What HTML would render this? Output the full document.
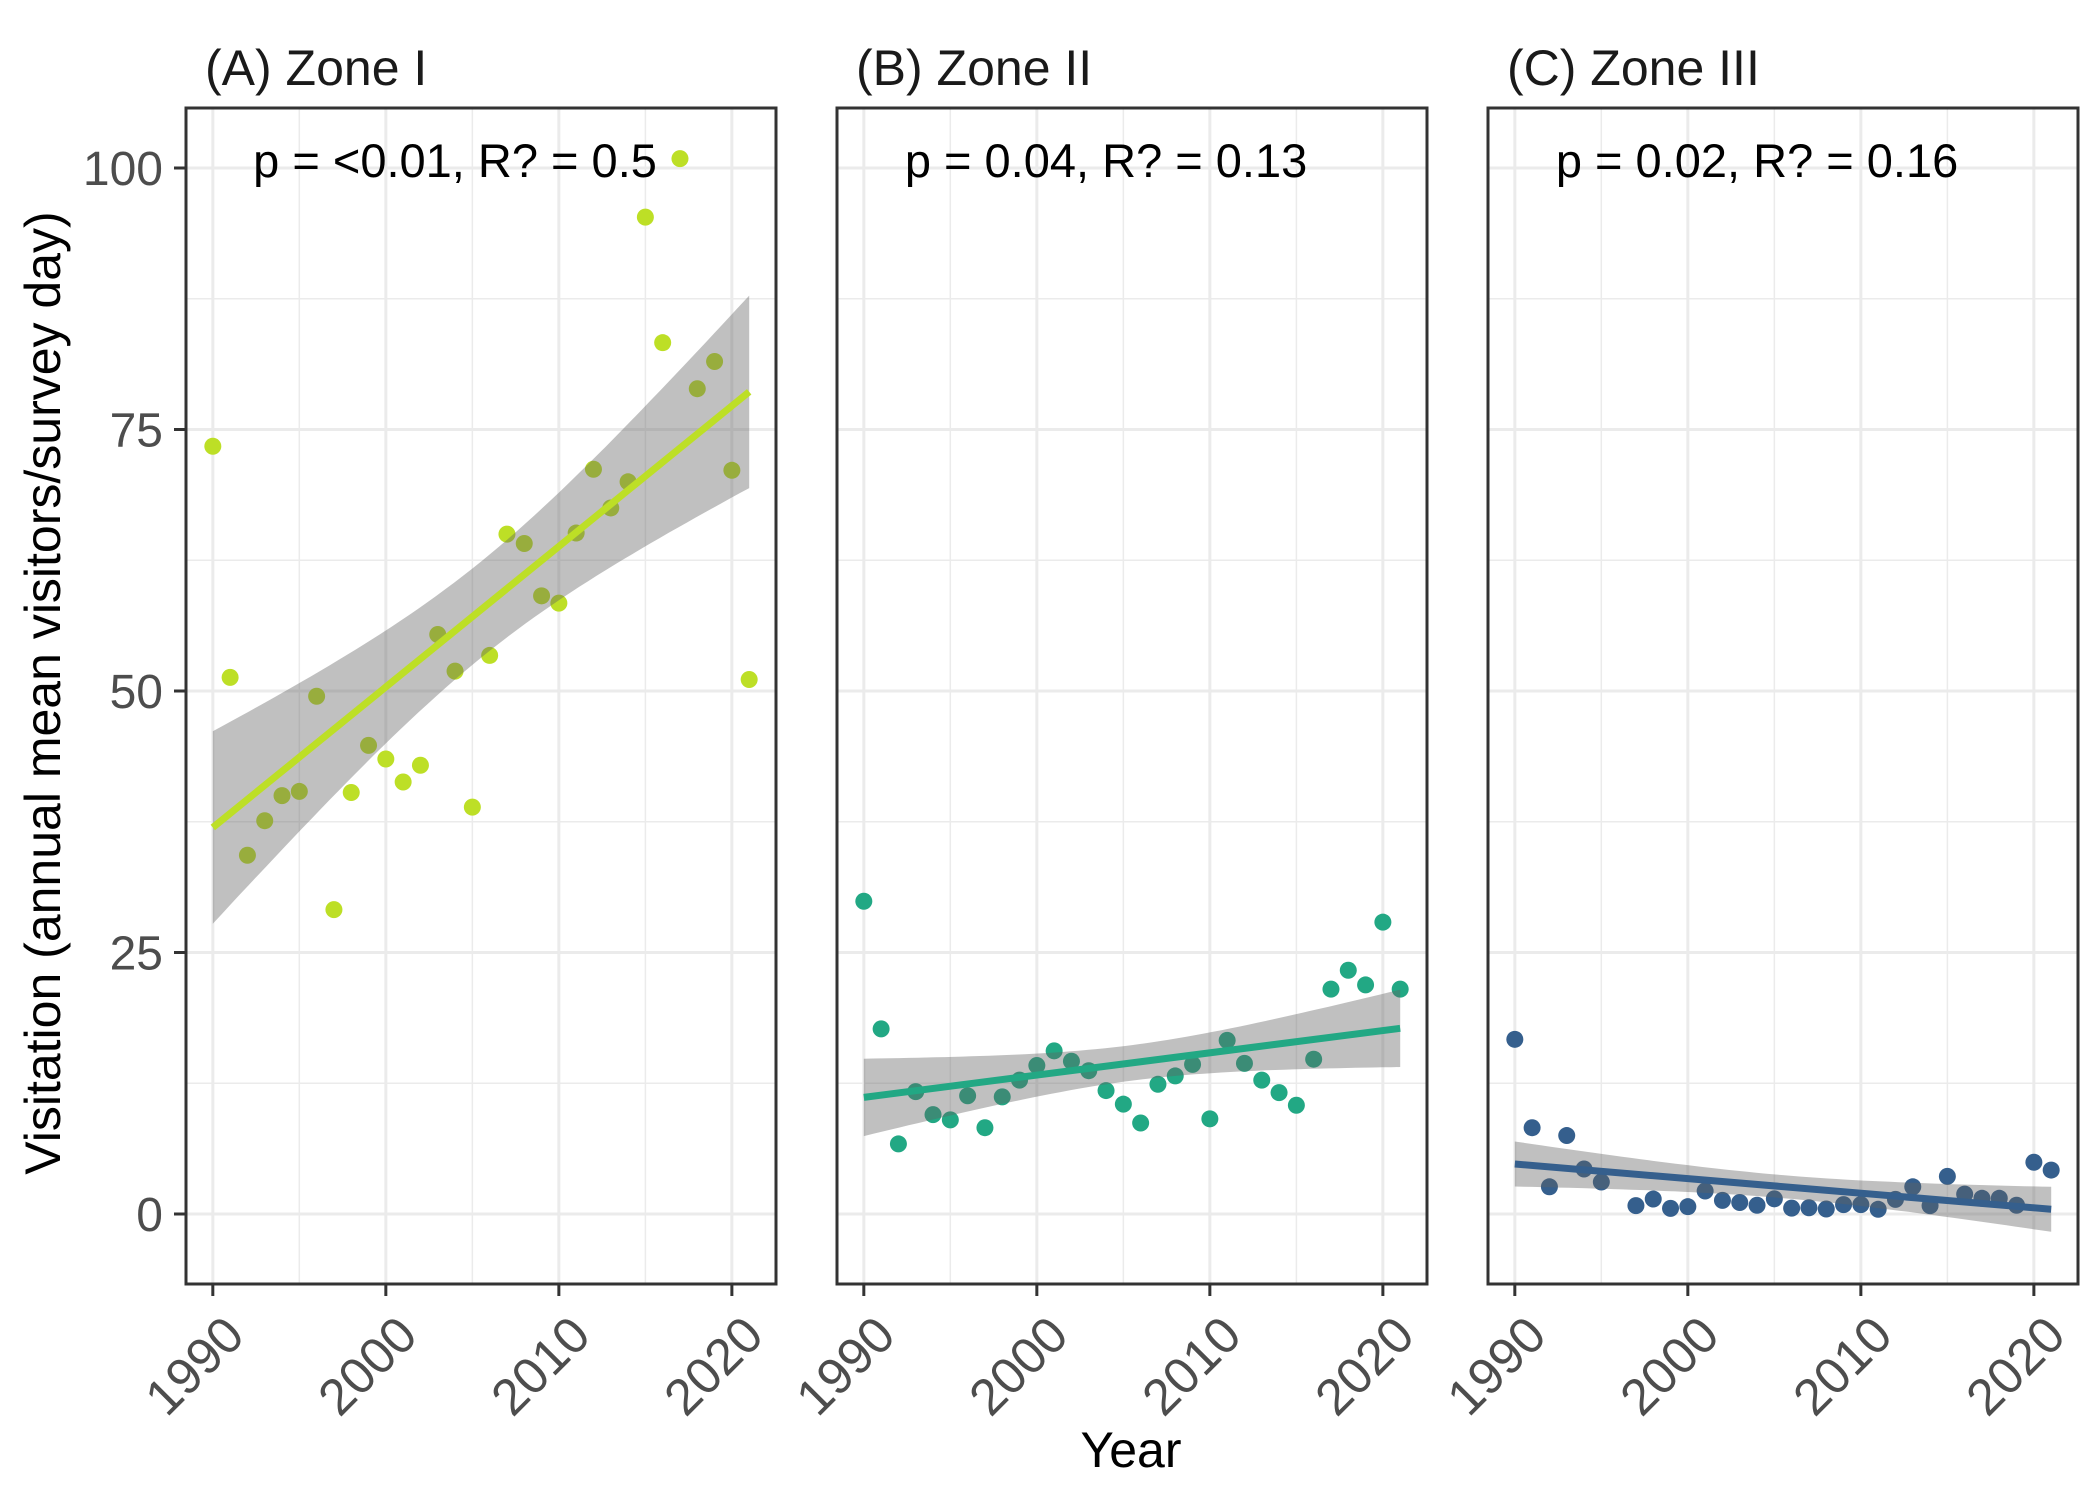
<!DOCTYPE html>
<html><head><meta charset="utf-8"><style>
html,body{margin:0;padding:0;background:#fff;}
svg{display:block;font-family:"Liberation Sans",Arial,sans-serif;}
</style></head><body>
<svg id="chart" width="2100" height="1500" viewBox="0 0 2100 1500">
<rect width="2100" height="1500" fill="#fff"/>
<text x="1131" y="1467" font-size="50" text-anchor="middle" fill="#000">Year</text>
<text transform="translate(60,693) rotate(-90)" font-size="50" text-anchor="middle" fill="#000">Visitation (annual mean visitors/survey day)</text>
</svg>
<script>
const years = [1990,1991,1992,1993,1994,1995,1996,1997,1998,1999,2000,2001,2002,2003,2004,2005,2006,2007,2008,2009,2010,2011,2012,2013,2014,2015,2016,2017,2018,2019,2020,2021];
const zoneIValues = [73.4,51.3,34.3,37.6,40,40.4,49.5,29.1,40.3,44.8,43.5,41.3,42.9,55.4,51.9,38.9,53.4,65,64.1,59.1,58.4,65.1,71.2,67.5,70,95.3,83.3,100.9,78.9,81.5,71.1,51.1];
const zoneIIValues = [29.9,17.7,6.7,11.7,9.5,9.0,11.3,8.25,11.2,12.8,14.2,15.6,14.6,13.7,11.8,10.5,8.7,12.4,13.2,14.3,9.1,16.6,14.4,12.8,11.6,10.4,14.8,21.5,23.3,21.9,27.9,21.5];
const zoneIIIValues = [16.7,8.25,2.6,7.5,4.3,3.06,null,0.8,1.43,0.54,0.7,2.2,1.3,1.1,0.84,1.45,0.56,0.6,0.48,0.9,0.9,0.45,1.4,2.6,0.8,3.6,1.9,1.5,1.5,0.84,4.95,4.2];
// fitted line [value at 1990, value at 2021]
const zoneIFit = [36.95,78.6];
const zoneIIFit = [11.15,17.75];
const zoneIIIFit = [4.78,0.45];
// CI half-width [at ends, at centre]
const zoneICI = [9.2,4.6];
const zoneIICI = [3.7,1.7];
const zoneIIICI = [2.15,1.1];
const panelTitles = ["(A) Zone I","(B) Zone II","(C) Zone III"];
const statLabels = ["p = <0.01, R? = 0.5","p = 0.04, R? = 0.13","p = 0.02, R? = 0.16"];
const yTicks = [0,25,50,75,100];
const yMinor = [12.5,37.5,62.5,87.5];
const xTicks = [1990,2000,2010,2020];
const xMinor = [1995,2005,2015];

const NS="http://www.w3.org/2000/svg";
const svg=document.getElementById('chart');
function mk(tag,attrs,parent){const e=document.createElementNS(NS,tag);for(const k in attrs)e.setAttribute(k,attrs[k]);(parent||svg).appendChild(e);return e;}
const panels=[{l:186,r:776,color:'#bddf26',vals:zoneIValues,fit:zoneIFit,ci:zoneICI,key:'zone-i'},
{l:837,r:1427,color:'#22a884',vals:zoneIIValues,fit:zoneIIFit,ci:zoneIICI,key:'zone-ii'},
{l:1488,r:2078,color:'#355f8d',vals:zoneIIIValues,fit:zoneIIIFit,ci:zoneIIICI,key:'zone-iii'}];
const TOP=108,BOT=1284,X0=1988.45,X1=2022.55;
function yS(v){return 1214-v*10.46;}
panels.forEach((p,pi)=>{
  const xS=yr=>p.l+(yr-X0)/(X1-X0)*(p.r-p.l);
  const g=mk('g',{});
  
  
  yMinor.forEach(v=>{const l=mk('line',{x1:p.l,x2:p.r,y1:yS(v),y2:yS(v),stroke:'#ebebeb','stroke-width':1.5},g);});
  xMinor.forEach(v=>{const l=mk('line',{x1:xS(v),x2:xS(v),y1:TOP,y2:BOT,stroke:'#ebebeb','stroke-width':1.5},g);});
  yTicks.forEach(v=>{const l=mk('line',{x1:p.l,x2:p.r,y1:yS(v),y2:yS(v),stroke:'#ebebeb','stroke-width':3},g);});
  xTicks.forEach(v=>{const l=mk('line',{x1:xS(v),x2:xS(v),y1:TOP,y2:BOT,stroke:'#ebebeb','stroke-width':3},g);});
  years.forEach((yr,i)=>{const v=p.vals[i];if(v==null)return;
    const c=mk('circle',{cx:xS(yr),cy:yS(v),r:8.5,fill:p.color},g);
    
    });
  const y0=years[0],y1=years[years.length-1],xm=(y0+y1)/2,hw=(y1-y0)/2;
  const a=p.ci[1]*p.ci[1],b=(p.ci[0]*p.ci[0]-a)/(hw*hw);
  const up=[],lo=[];
  for(let k=0;k<=60;k++){const yr=y0+(y1-y0)*k/60;const f=p.fit[0]+(p.fit[1]-p.fit[0])*(yr-y0)/(y1-y0);const h=Math.sqrt(a+b*(yr-xm)*(yr-xm));
    up.push(xS(yr).toFixed(1)+','+yS(f+h).toFixed(1));lo.unshift(xS(yr).toFixed(1)+','+yS(f-h).toFixed(1));}
  const rb=mk('polygon',{points:up.concat(lo).join(' '),fill:'#616161','fill-opacity':0.4},g);
  
  
  const ln=mk('line',{x1:xS(y0),y1:yS(p.fit[0]),x2:xS(y1),y2:yS(p.fit[1]),stroke:p.color,'stroke-width':7},g);
  
  
  const bd=mk('rect',{x:p.l,y:TOP,width:p.r-p.l,height:BOT-TOP,fill:'none',stroke:'#333','stroke-width':3},g);
  
  
  const t=mk('text',{x:p.l+19,y:85,'font-size':50,fill:'#1a1a1a'},g);t.textContent=panelTitles[pi];
  
  
  const s=mk('text',{x:xS(2004.0),y:177,'font-size':47,fill:'#000','text-anchor':'middle'},g);s.textContent=statLabels[pi];
  
  
  xTicks.forEach(v=>{const tk=mk('line',{x1:xS(v),x2:xS(v),y1:BOT,y2:BOT+12,stroke:'#333','stroke-width':3},g);
    
    
    const lb=mk('text',{transform:`translate(${xS(v)+8},${BOT+28}) rotate(-45)`,'font-size':51,fill:'#4d4d4d','text-anchor':'end','dominant-baseline':'hanging'},g);
    lb.textContent=v;
    
    });
  if(pi===0){yTicks.forEach(v=>{const tk=mk('line',{x1:p.l-12,x2:p.l,y1:yS(v),y2:yS(v),stroke:'#333','stroke-width':3},g);
    
    
    const lb=mk('text',{x:163,y:yS(v)+17,'font-size':48,fill:'#4d4d4d','text-anchor':'end'},g);lb.textContent=v;
    
    });}
});
</script>
</body></html>
